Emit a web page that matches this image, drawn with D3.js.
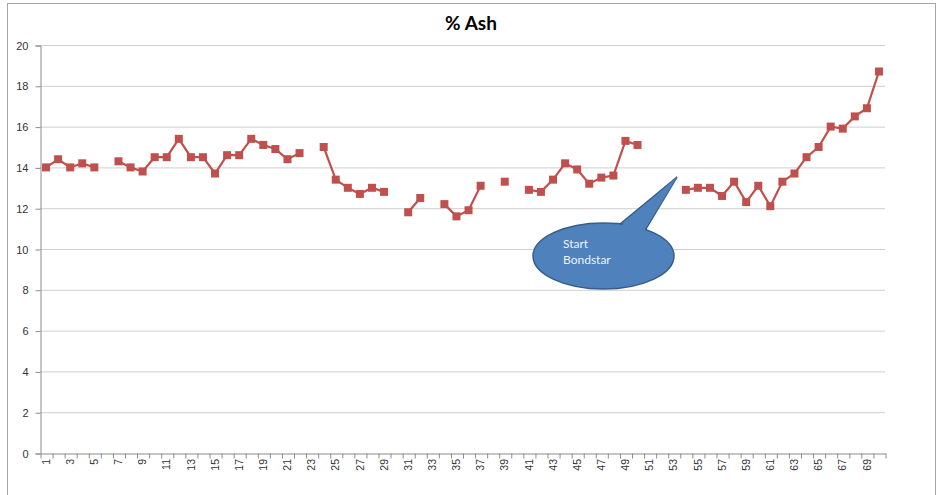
<!DOCTYPE html>
<html>
<head>
<meta charset="utf-8">
<script src="https://cdn.jsdelivr.net/npm/d3@7"></script>
<style>
  body { margin: 0; background: #fff; }
  svg { display: block; font-family: Lato, "Open Sans", sans-serif; }
</style>
</head>
<body>
<svg id="chart" width="941" height="495"></svg>
<script>
/* Values, one per sample (null = no reading) */
var samples = d3.range(1, 71)
var ash = [
	14.0, 14.4, 14.0, 14.2, 14.0, null, 14.3, 14.0, 13.8, 14.5,
	14.5, 15.4, 14.5, 14.5, 13.7, 14.6, 14.6, 15.4, 15.1, 14.9,
	14.4, 14.7, null, 15.0, 13.4, 13.0, 12.7, 13.0, 12.8, null,
	11.8, 12.5, null, 12.2, 11.6, 11.9, 13.1, null, 13.3, null,
	12.9, 12.8, 13.4, 14.2, 13.9, 13.2, 13.5, 13.6, 15.3, 15.1,
	null, null, null, 12.9, 13.0, 13.0, 12.6, 13.3, 12.3, 13.1,
	12.1, 13.3, 13.7, 14.5, 15.0, 16.0, 15.9, 16.5, 16.9, 18.7
]
var yTicks = [0, 2, 4, 6, 8, 10, 12, 14, 16, 18, 20]
var xLabels = samples.filter(function(d) { return d % 2 == 1 })
var calloutLines = ['Start', 'Bondstar']

var red = '#c0504d'
var svg = d3.select('#chart')

/* plot area edges (note: "top" is taken by window.top) */
var plotLeft = 40, plotRight = 885, plotTop = 45, plotBottom = 453

/* Outer chart frame */
svg.append('rect')
	.attr('x', 7.5).attr('y', 3.5)
	.attr('width', 928).attr('height', 510)
	.attr('fill', 'none').attr('stroke', '#a6a6a6')

var x = d3.scaleBand().domain(samples).range([plotLeft, plotRight])
var xEdge = d3.scaleLinear().domain([0, samples.length]).range([plotLeft, plotRight])
var y = d3.scaleLinear().domain([0, 20]).range([plotBottom, plotTop])

/* Gridlines */
svg.append('g').selectAll('line').data(yTicks.filter(function(d) { return d > 0 }))
	.enter().append('line')
	.attr('x1', plotLeft).attr('x2', plotRight)
	.attr('y1', function(d) { return y(d) + 0.5 })
	.attr('y2', function(d) { return y(d) + 0.5 })
	.attr('stroke', '#cfcfcf').attr('stroke-width', 1)

/* Y axis */
var yAxis = svg.append('g').attr('transform', 'translate(' + (plotLeft + 0.5) + ',0.5)')
	.call(d3.axisLeft(y).tickValues(yTicks).tickSize(5).tickPadding(7))
yAxis.selectAll('path, line').attr('stroke', '#8c8c8c')
yAxis.selectAll('text').style('font-size', '11px').attr('fill', '#333')

/* X axis: ticks between categories, labels on odd ones */
var xTicks = svg.append('g').attr('transform', 'translate(0.5,' + (plotBottom + 0.5) + ')')
	.call(d3.axisBottom(xEdge).tickValues(d3.range(samples.length + 1))
		.tickFormat('').tickSize(5).tickSizeOuter(0))
xTicks.selectAll('path, line').attr('stroke', '#8c8c8c')

var xAxis = svg.append('g').attr('transform', 'translate(0,' + plotBottom + ')')
	.call(d3.axisBottom(x).tickValues(xLabels).tickSize(0))
xAxis.select('.domain').remove()
xAxis.selectAll('text')
	.attr('transform', 'rotate(-90)')
	.attr('x', -6).attr('y', 0).attr('dy', '0.35em')
	.style('text-anchor', 'end')
	.style('font-size', '10.5px').attr('fill', '#333')

/* Series line, broken where a reading is missing */
var points = samples.map(function(s, i) { return { s: s, v: ash[i] } })
var line = d3.line()
	.defined(function(d) { return d.v != null })
	.x(function(d) { return x(d.s) + x.bandwidth() / 2 })
	.y(function(d) { return y(d.v) })

svg.append('path').datum(points)
	.attr('d', line)
	.attr('fill', 'none').attr('stroke', red).attr('stroke-width', 2.2)

svg.append('g').selectAll('rect').data(points.filter(function(d) { return d.v != null }))
	.enter().append('rect')
	.attr('width', 8).attr('height', 8)
	.attr('x', function(d) { return x(d.s) + x.bandwidth() / 2 - 4 })
	.attr('y', function(d) { return y(d.v) - 4 })
	.attr('fill', red)

/* Title */
svg.append('text')
	.attr('x', 471).attr('y', 30)
	.attr('text-anchor', 'middle')
	.style('font-size', '19px').style('font-weight', 'bold')
	.text('% Ash')

/* Callout bubble */
var callout = svg.append('g')
callout.append('path')
	.attr('d', 'M620,224 L677,177 L646,229 Z')
	.attr('fill', '#4f81bd').attr('stroke', '#385d8a').attr('stroke-width', 1.5)
callout.append('ellipse')
	.attr('cx', 603.5).attr('cy', 256).attr('rx', 70.5).attr('ry', 33)
	.attr('fill', '#4f81bd').attr('stroke', '#385d8a').attr('stroke-width', 1.5)
callout.append('path')
	.attr('d', 'M621,226 L677,177 L644,231 Z')
	.attr('fill', '#4f81bd')
callout.append('text')
	.attr('y', 248)
	.style('font-size', '12px').attr('fill', '#eef2f8')
	.selectAll('tspan').data(calloutLines).enter().append('tspan')
	.attr('x', 563)
	.attr('dy', function(d, i) { return i == 0 ? 0 : 16 })
	.text(function(d) { return d })
</script>
</body>
</html>
